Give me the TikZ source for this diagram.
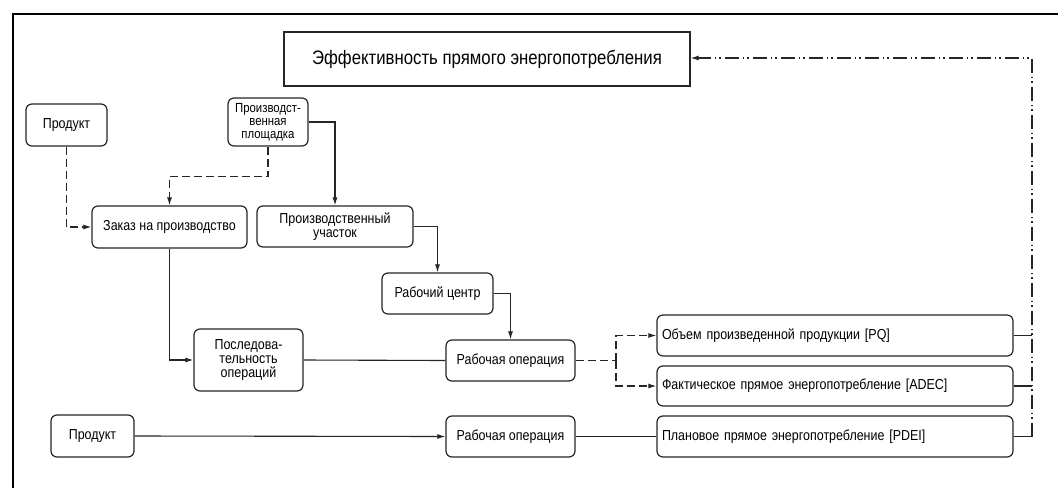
\documentclass[tikz,border=0pt]{standalone}
\usepackage{fontspec}
\setmainfont{Liberation Sans}
\newfontfamily\narfont[FakeStretch=0.86]{Liberation Sans}
\usetikzlibrary{arrows.meta}
\begin{document}
\begin{tikzpicture}[x=1pt,y=-1pt,
 box/.style={draw=black!85,line width=1.2pt,rounded corners=6pt,inner sep=2pt,align=center,font=\narfont\fontsize{14.5}{14}\selectfont},
 sbox/.style={draw=black!85,line width=1.2pt,inner sep=2pt,align=center},
 lbox/.style={box,minimum width=356pt,minimum height=41pt,text width=346pt,inner sep=5pt,align=left},
 conn/.style={line width=1.1pt,draw=black!85},
 arr/.style={-{Latex[length=8pt,width=5pt]}},
 dsh/.style={dash pattern=on 8pt off 4pt},
 ddot/.style={dash pattern=on 14pt off 4pt on 1.5pt off 3pt on 1.5pt off 4pt}]
\useasboundingbox (0,0) rectangle (1058,488);
\fill[white] (0,0) rectangle (1058,488);
% frame
\coordinate (fl) at (13,488);
\coordinate (ftl) at (13,14);
\coordinate (fr) at (1058,14);
\draw[line width=1.4pt] (fl) -- (ftl) -- (fr);
% nodes
\node[sbox,minimum width=406pt,minimum height=54pt,font=\narfont\fontsize{19.5}{20}\selectfont] (title) at (487,59) {Эффективность прямого энергопотребления};
\node[box,minimum width=81pt,minimum height=42pt] (prod1) at (66.5,125) {Продукт};
\node[box,minimum width=80pt,minimum height=48pt,font=\narfont\fontsize{13.2}{13}\selectfont] (site) at (268,122) {Производст-\\венная\\площадка};
\node[box,minimum width=155pt,minimum height=42pt] (order) at (169.5,227) {Заказ на производство};
\node[box,minimum width=156pt,minimum height=41pt] (area) at (335,226.5) {Производственный\\участок};
\node[box,minimum width=111pt,minimum height=41pt] (wc) at (437.5,293.5) {Рабочий центр};
\node[box,minimum width=109pt,minimum height=62pt] (seq) at (248.5,360) {Последова-\\тельность\\операций};
\node[box,minimum width=129pt,minimum height=41pt] (op1) at (510.5,360.5) {Рабочая операция};
\node[lbox] (pq) at (835,335.5) {Объем произведенной продукции [PQ]};
\node[lbox,minimum height=40pt] (adec) at (835,386) {Фактическое прямое энергопотребление [ADEC]};
\node[lbox] (pdei) at (835,436.5) {Плановое прямое энергопотребление [PDEI]};
\node[box,minimum width=83pt,minimum height=42pt] (prod2) at (92.5,436) {Продукт};
\node[box,minimum width=129pt,minimum height=41pt] (op2) at (510.5,436.5) {Рабочая операция};
% coordinates
\coordinate (br) at (616,360.5);
\coordinate (rpq) at (1032,335.5);
\coordinate (radec) at (1032,386);
\coordinate (rpdei) at (1032,436.5);
\coordinate (rtop) at (1032,58);
% connectors
\draw[conn,dsh,arr] (prod1.south) |- (order.west);
\draw[conn,dsh,arr] (site.south) -- ++(0,30) -| (order.north);
\draw[conn,arr] (site.east) -| (area.north);
\draw[conn,arr] (area.east) -| (wc.north);
\draw[conn,arr] (wc.east) -| (op1.north);
\draw[conn,arr] (order.south) |- (seq.west);
\draw[conn] (seq.east) -- (op1.west);
\draw[conn,dsh] (op1.east) -- (br);
\draw[conn,dsh,arr] (br) |- (pq.west);
\draw[conn,dsh,arr] (br) |- (adec.west);
\draw[conn,arr] (prod2.east) -- (op2.west);
\draw[conn] (op2.east) -- (pdei.west);
\draw[conn] (pq.east) -- (rpq);
\draw[conn] (adec.east) -- (radec);
\draw[conn] (pdei.east) -- (rpdei);
\draw[conn,ddot,arr] (rpdei) -- (rtop) -- (title.east |- rtop);
\end{tikzpicture}
\end{document}
